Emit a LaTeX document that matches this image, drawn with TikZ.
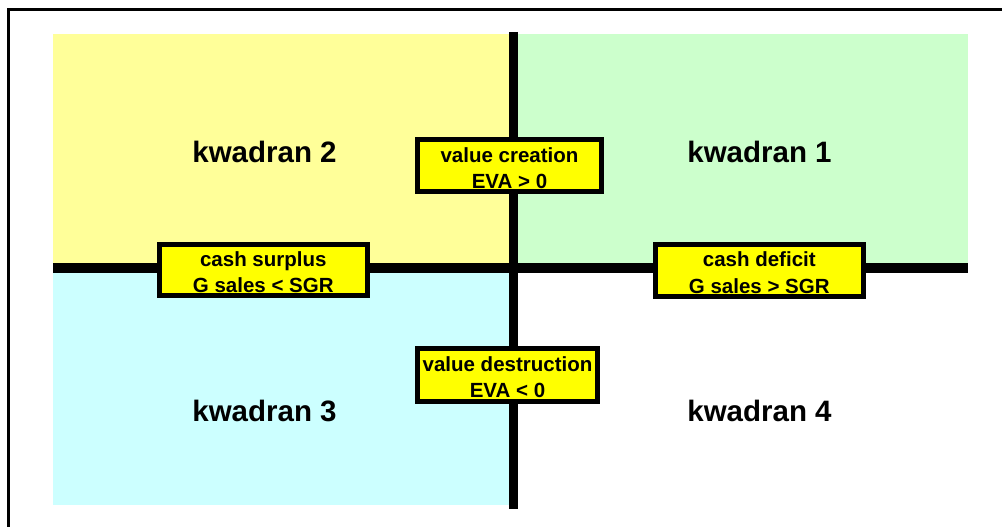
\documentclass[tikz,border=0pt]{standalone}
\usepackage{fontspec}
\setmainfont{Liberation Sans}
\begin{document}
\begin{tikzpicture}[x=1pt,y=-1pt,
  bigtxt/.style={font=\bfseries\fontsize{29.5}{34}\selectfont},
  labelbox/.style={draw=black,line width=5pt,fill=boxyellow,inner sep=0pt},
  boxtext/.style={inner sep=0pt,align=center,font=\bfseries\fontsize{20.5}{26.5}\selectfont},
  axis/.style={line width=9pt,black}]
\definecolor{qyellow}{HTML}{FFFF99}
\definecolor{qgreen}{HTML}{CCFFCC}
\definecolor{qcyan}{HTML}{CCFFFF}
\definecolor{boxyellow}{HTML}{FFFF00}
\useasboundingbox (0,0) rectangle (1002,527);
\fill[white] (0,0) rectangle (1002,527);
% frame (only top and left visible)
\draw[line width=3.5pt] (8.5,1200) -- (8.5,9.5) -- (1200,9.5);
% quadrant backgrounds
\fill[qyellow] (53,34) rectangle (513,267);
\fill[qgreen] (513,34) rectangle (968,267);
\fill[qcyan] (53,267) rectangle (513,505);
% axes
\coordinate (vtop) at (513.5,32);
\coordinate (vbot) at (513.5,509);
\coordinate (hleft) at (53,267.5);
\coordinate (hright) at (968,267.5);
\draw[axis] (vtop) -- (vbot);
\draw[axis,line width=10pt] (hleft) -- (hright);
% quadrant labels
\node[bigtxt] (k2) at (264.5,152) {kwadran 2};
\node[bigtxt] (k1) at (759.5,152) {kwadran 1};
\node[bigtxt] (k3) at (264.5,411) {kwadran 3};
\node[bigtxt] (k4) at (759.5,411) {kwadran 4};
% boxes
\node[labelbox,minimum width=184pt,minimum height=52pt] (vc) at (509.5,165.5) {};
\node[boxtext] (vct) at ([yshift=-2.5pt]vc.center) {value creation\\EVA > 0};
\node[labelbox,minimum width=208pt,minimum height=51pt] (cs) at (263.3,270) {};
\node[boxtext] (cst) at ([yshift=-2pt]cs.center) {cash surplus\\G sales < SGR};
\node[labelbox,minimum width=208pt,minimum height=52pt] (cd) at (759.3,270.5) {};
\node[boxtext] (cdt) at ([yshift=-2pt]cd.center) {cash deficit\\G sales > SGR};
\node[labelbox,minimum width=180pt,minimum height=53pt] (vd) at (507.5,375) {};
\node[boxtext] (vdt) at ([yshift=-2pt]vd.center) {value destruction\\EVA < 0};
\end{tikzpicture}
\end{document}
